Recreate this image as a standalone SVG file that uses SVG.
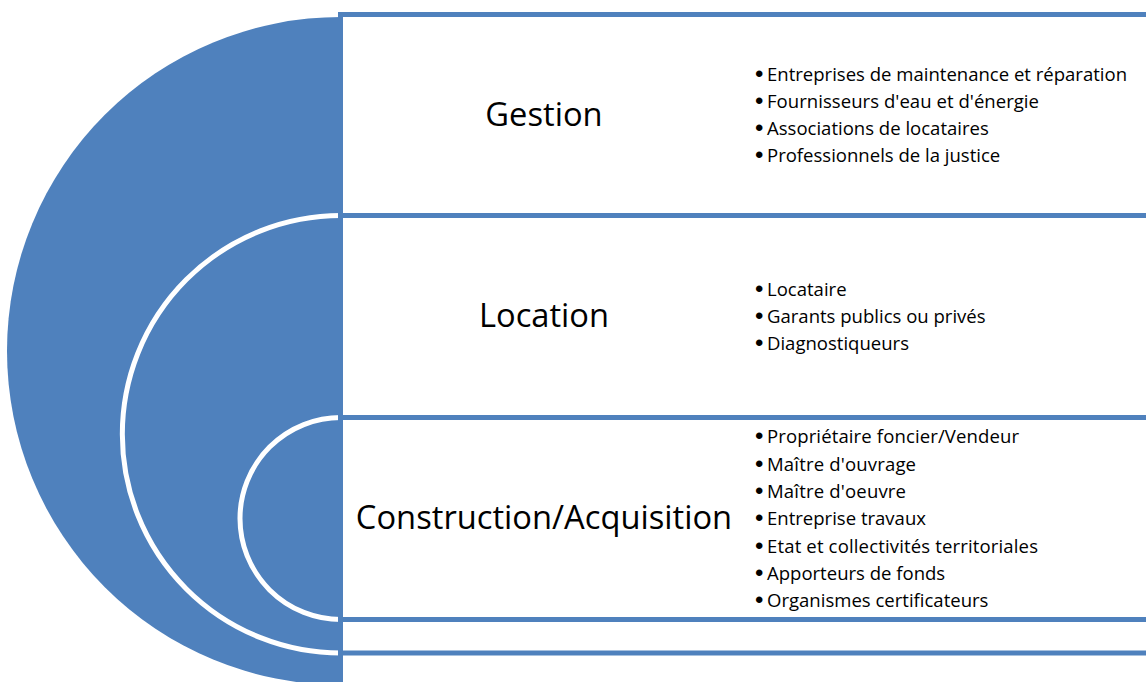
<svg xmlns="http://www.w3.org/2000/svg" width="1146" height="682" viewBox="0 0 1146 682">
<style>
.a{fill:#4f81bd}
.c{fill:#4f81bd;stroke:#fff;stroke-width:5}
.l{stroke:#4f81bd;stroke-width:5;fill:none}
.t{font-family:"Open Sans","Noto Sans",sans-serif;font-size:32.7px;fill:#000;text-anchor:middle}
.b{font-family:"Open Sans","Noto Sans",sans-serif;font-size:18.55px;fill:#000}
.d{font-family:"Liberation Sans",Arial,sans-serif;font-size:24px;fill:#000}
</style>
<rect width="1146" height="682" fill="#fff"/>
<g id="arc-outer"><path class="a" d="M341 17A334 334 0 0 0 341 685Z"/></g>
<g id="arc-middle"><path class="c" d="M341 215.5A218.5 218.5 0 0 0 341 653"/></g>
<g id="arc-inner"><path class="c" d="M341 417.5A101 101 0 0 0 341 619.5"/></g>
<g id="connectors">
<path class="l" d="M338 14.5H1146M338 215.5H1146M338 417.5H1146M338 619.5H1146M338 653H1146M340.5 12V682"/>
</g>
<g id="gestion"><text class="t" x="544" y="126">Gestion</text>
<text class="d" x="755" y="82">•</text><text class="b" x="767" y="80.5">Entreprises de maintenance et réparation</text>
<text class="d" x="755" y="109">•</text><text class="b" x="767" y="107.5" textLength="272">Fournisseurs d'eau et d'énergie</text>
<text class="d" x="755" y="136">•</text><text class="b" x="767" y="134.5">Associations de locataires</text>
<text class="d" x="755" y="163">•</text><text class="b" x="767" y="161.5">Professionnels de la justice</text></g>
<g id="location"><text class="t" x="544" y="327">Location</text>
<text class="d" x="755" y="297">•</text><text class="b" x="767" y="295.5">Locataire</text>
<text class="d" x="755" y="324">•</text><text class="b" x="767" y="322.5">Garants publics ou privés</text>
<text class="d" x="755" y="351">•</text><text class="b" x="767" y="349.5">Diagnostiqueurs</text></g>
<g id="construction"><text class="t" x="544" y="529">Construction/Acquisition</text>
<text class="d" x="755" y="444">•</text><text class="b" x="767" y="442.5" textLength="252">Propriétaire foncier/Vendeur</text>
<text class="d" x="755" y="472">•</text><text class="b" x="767" y="470.5" textLength="149">Maître d'ouvrage</text>
<text class="d" x="755" y="499">•</text><text class="b" x="767" y="497.5" textLength="139">Maître d'oeuvre</text>
<text class="d" x="755" y="526">•</text><text class="b" x="767" y="524.5">Entreprise travaux</text>
<text class="d" x="755" y="554">•</text><text class="b" x="767" y="552.5" textLength="271">Etat et collectivités territoriales</text>
<text class="d" x="755" y="581">•</text><text class="b" x="767" y="579.5">Apporteurs de fonds</text>
<text class="d" x="755" y="608">•</text><text class="b" x="767" y="606.5">Organismes certificateurs</text></g>
</svg>
